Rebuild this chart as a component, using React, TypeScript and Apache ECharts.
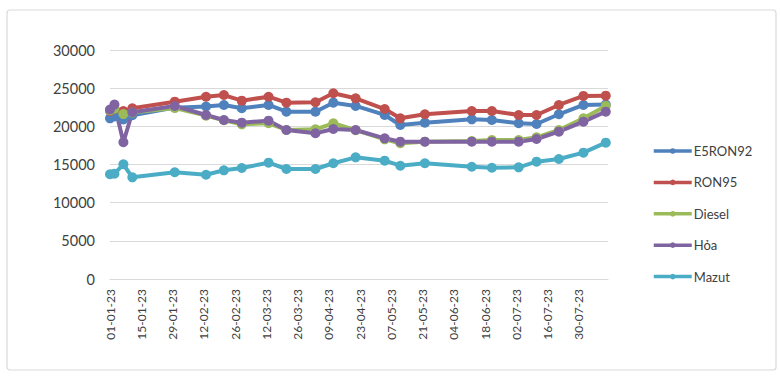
import React, { useEffect, useRef } from "react";
import * as echarts from "echarts";

const dates = [
  "2023-01-01", "2023-01-03", "2023-01-07", "2023-01-11", "2023-01-30", "2023-02-13",
  "2023-02-21", "2023-03-01", "2023-03-13", "2023-03-21", "2023-04-03", "2023-04-11",
  "2023-04-21", "2023-05-04", "2023-05-11", "2023-05-22", "2023-06-12", "2023-06-21",
  "2023-07-03", "2023-07-11", "2023-07-21", "2023-08-01", "2023-08-11",
];

const e5ron92 = [21050, 21300, 20900, 21450, 22450, 22600, 22800, 22380, 22800, 21920, 21920, 23100, 22670, 21490, 20180, 20480, 20920, 20830, 20400, 20310, 21580, 22800, 22850];
const ron95 = [22000, 22300, 22000, 22360, 23230, 23880, 24100, 23360, 23880, 23100, 23150, 24330, 23670, 22270, 21050, 21580, 22010, 22010, 21490, 21490, 22800, 23980, 24020];
const diesel = [22100, 22300, 21600, 21800, 22400, 21400, 20800, 20260, 20400, 19520, 19610, 20400, 19500, 18300, 17780, 17990, 18080, 18210, 18210, 18560, 19520, 21050, 22670];
const hoa = [22200, 22850, 17910, 21840, 22660, 21490, 20830, 20480, 20740, 19520, 19090, 19650, 19520, 18430, 17990, 17990, 17990, 17990, 17990, 18340, 19300, 20610, 21920];
const mazut = [13720, 13800, 15030, 13320, 13980, 13660, 14240, 14540, 15240, 14410, 14410, 15160, 15940, 15500, 14840, 15160, 14710, 14580, 14630, 15370, 15720, 16550, 17860];

const seriesNames = ["E5RON92", "RON95", "Diesel", "Hỏa", "Mazut"];
const seriesColors = ["#4F81BD", "#C0504D", "#9BBB59", "#8064A2", "#4BACC6"];
const seriesValues = [e5ron92, ron95, diesel, hoa, mazut];

const DAY = 86400000;
const START = Date.UTC(2023, 0, 1);
const toDay = (s: string) => {
  const [y, m, d] = s.split("-").map(Number);
  return Math.round((Date.UTC(y, m - 1, d) - START) / DAY);
};
const dayLabel = (v: number) => {
  if (Math.round(v) % 14 !== 0) return "";
  const dt = new Date(START + Math.round(v) * DAY);
  const dd = String(dt.getUTCDate()).padStart(2, "0");
  const mm = String(dt.getUTCMonth() + 1).padStart(2, "0");
  const yy = String(dt.getUTCFullYear()).slice(2);
  return `${dd}-${mm}-${yy}`;
};

const FONT = "Lato";

export default function App() {
  const ref = useRef<HTMLDivElement>(null);
  useEffect(() => {
    if (!ref.current) return;
    const chart = echarts.init(ref.current, undefined, { renderer: "svg" });
    const days = dates.map(toDay);
    chart.setOption({
      animation: false,
      backgroundColor: "#ffffff",
      textStyle: { fontFamily: FONT },
      graphic: [
        {
          type: "rect",
          shape: { x: 7, y: 10, width: 769, height: 360, r: 3 },
          style: { fill: "none", stroke: "#d9d9d9", lineWidth: 1.2 },
          silent: true,
        },
      ],
      grid: { left: 110, right: 172, top: 50, bottom: 98 },
      legend: {
        orient: "vertical",
        left: 647,
        top: 138,
        itemWidth: 38,
        itemHeight: 7,
        itemGap: 15.4,
        itemStyle: { borderWidth: 0 },
        lineStyle: { width: 3.5 },
        textStyle: { fontFamily: FONT, fontSize: 13, color: "#404040", padding: [0, 0, 0, -3], lineHeight: 16 },
        data: seriesNames,
      },
      xAxis: {
        type: "value",
        min: 0,
        max: 223,
        interval: 14,
        axisLine: { show: true, lineStyle: { color: "#d9d9d9", width: 1 } },
        axisTick: { show: false },
        splitLine: { show: false },
        axisLabel: {
          rotate: 90,
          margin: 10,
          fontFamily: FONT,
          fontSize: 12,
          color: "#404040",
          formatter: (v: number) => dayLabel(v),
          showMaxLabel: false,
        },
      },
      yAxis: {
        type: "value",
        min: 0,
        max: 30000,
        interval: 5000,
        axisLine: { show: false },
        axisTick: { show: false },
        splitLine: { lineStyle: { color: "#d9d9d9", width: 1 } },
        axisLabel: {
          fontFamily: FONT,
          fontSize: 14.5,
          color: "#404040",
          margin: 15,
          formatter: (v: number) => String(v),
        },
      },
      series: seriesNames.map((name, i) => ({
        name,
        type: "line",
        data: days.map((d, j) => [d, seriesValues[i][j]]),
        symbol: "circle",
        symbolSize: 10,
        showSymbol: true,
        lineStyle: { color: seriesColors[i], width: 4 },
        itemStyle: { color: seriesColors[i] },
        emphasis: { disabled: true },
      })),
    });
    return () => chart.dispose();
  }, []);
  return (
    <div
      ref={ref}
      style={{ position: "fixed", left: 0, top: 0, width: 780, height: 377 }}
    />
  );
}
